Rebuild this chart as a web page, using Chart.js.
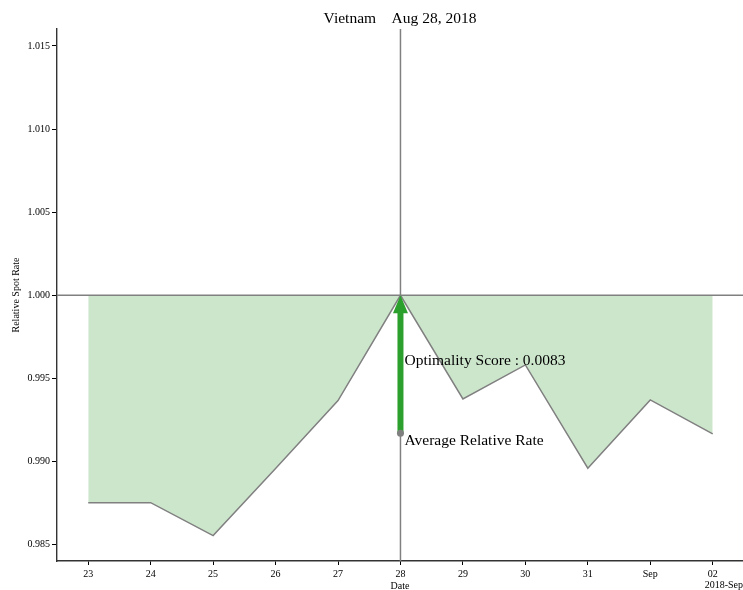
<!DOCTYPE html>
<html>
<head>
<meta charset="utf-8">
<script src="https://cdn.jsdelivr.net/npm/chart.js@4.4.1/dist/chart.umd.min.js"></script>
<style>
  html, body { margin: 0; padding: 0; background: #fff; }
  #wrap { width: 743px; height: 590px; position: relative; }
</style>
</head>
<body>
<div id="wrap"><canvas id="c"></canvas></div>
<script>
// Relative spot rate around the decision date (rate / rate on decision date)
const country = 'Vietnam';
const asOfLabel = 'Aug 28, 2018';
const dateLabels = ['23', '24', '25', '26', '27', '28', '29', '30', '31', 'Sep', '02'];
const relativeRate = [0.98752, 0.98752, 0.98554, 0.98958, 0.99366, 1.00000, 0.99376, 0.99581, 0.98959, 0.99370, 0.99166];
const yTickValues = [0.985, 0.990, 0.995, 1.000, 1.005, 1.010, 1.015];
const baselineRate = 1.0;
const decisionIndex = 5;
const optimalityScore = 0.0083;
const averageRate = baselineRate - optimalityScore;
const offsetLabel = '2018-Sep';

const SERIF = '"Liberation Serif", "Times New Roman", serif';
const GREEN = '#2ca02c';
const GRAY = '#808080';

const points = relativeRate.map((v, i) => ({ x: i, y: v }));

// Reference lines, arrow, annotations and titles
const overlay = {
  id: 'overlay',
  afterDatasetsDraw(chart) {
    const { ctx, chartArea: a, scales: { x, y } } = chart;
    const yBase = y.getPixelForValue(baselineRate);
    const xm = x.getPixelForValue(decisionIndex);
    const yAvg = y.getPixelForValue(averageRate);

    ctx.save();
    ctx.strokeStyle = GRAY;
    ctx.lineWidth = 1.5;
    ctx.beginPath();
    ctx.moveTo(a.left, yBase); ctx.lineTo(a.right, yBase);
    ctx.moveTo(xm, a.top); ctx.lineTo(xm, a.bottom);
    ctx.stroke();

    // arrow from the average rate up to the baseline
    const headLen = 18, headHalf = 7.5;
    ctx.strokeStyle = GREEN;
    ctx.lineWidth = 6;
    ctx.beginPath();
    ctx.moveTo(xm, yAvg);
    ctx.lineTo(xm, yBase + headLen - 1);
    ctx.stroke();
    ctx.fillStyle = GREEN;
    ctx.beginPath();
    ctx.moveTo(xm, yBase);
    ctx.lineTo(xm - headHalf, yBase + headLen);
    ctx.lineTo(xm + headHalf, yBase + headLen);
    ctx.closePath();
    ctx.fill();

    ctx.fillStyle = GRAY;
    ctx.beginPath();
    ctx.arc(xm, yAvg, 3.5, 0, Math.PI * 2);
    ctx.fill();

    ctx.fillStyle = '#000';
    ctx.font = '15.5px ' + SERIF;
    ctx.textAlign = 'left';
    ctx.textBaseline = 'alphabetic';
    ctx.fillText('Optimality Score : ' + optimalityScore.toFixed(4), xm + 4, (yBase + yAvg) / 2 + 1);
    ctx.fillText('Average Relative Rate', xm + 4, yAvg + 11.5);
    ctx.restore();
  },
  afterDraw(chart) {
    const { ctx, chartArea: a } = chart;
    const cx = (a.left + a.right) / 2;
    ctx.save();
    ctx.fillStyle = '#000';
    ctx.textBaseline = 'alphabetic';
    ctx.textAlign = 'center';
    ctx.font = '15.5px ' + SERIF;
    ctx.fillText(country + '    ' + asOfLabel, cx, 23);

    ctx.font = '10px ' + SERIF;
    ctx.fillText('Date', cx, 589);
    ctx.textAlign = 'right';
    ctx.fillText(offsetLabel, chart.width, 588);

    ctx.translate(16, (a.top + a.bottom) / 2);
    ctx.rotate(-Math.PI / 2);
    ctx.textAlign = 'center';
    ctx.textBaseline = 'middle';
    ctx.fillText('Relative Spot Rate', 0, 0);
    ctx.restore();
  }
};

new Chart(document.getElementById('c'), {
  type: 'line',
  data: {
    datasets: [{
      data: points,
      borderColor: GRAY,
      borderWidth: 1.5,
      backgroundColor: 'rgba(0,128,0,0.2)',
      fill: { value: baselineRate },
      pointRadius: 0,
      tension: 0
    }]
  },
  options: {
    responsive: true,
    maintainAspectRatio: false,
    animation: false,
    events: [],
    layout: { padding: { top: 29, bottom: 0, left: 0, right: 0 } },
    plugins: { legend: { display: false }, tooltip: { enabled: false }, title: { display: false } },
    scales: {
      x: {
        type: 'linear',
        min: -0.5,
        max: 10.485,
        afterBuildTicks: s => { s.ticks = dateLabels.map((_, i) => ({ value: i })); },
        afterFit: s => { s.height = 29; },
        grid: { drawOnChartArea: false, drawTicks: true, tickLength: 4, color: '#000', tickWidth: 1 },
        border: { display: true, color: '#333', width: 1.4 },
        ticks: {
          autoSkip: false,
          maxRotation: 0,
          padding: 3,
          color: '#000',
          font: { family: SERIF, size: 10 },
          callback: v => dateLabels[v]
        }
      },
      y: {
        min: 0.98401,
        max: 1.01602,
        afterBuildTicks: s => { s.ticks = yTickValues.map(v => ({ value: v })); },
        afterFit: s => { s.width = 57; },
        grid: { drawOnChartArea: false, drawTicks: true, tickLength: 5, color: '#000', tickWidth: 1 },
        border: { display: true, color: '#333', width: 1.4 },
        ticks: {
          padding: 2,
          color: '#000',
          font: { family: SERIF, size: 10 },
          callback: v => Number(v).toFixed(3)
        }
      }
    }
  },
  plugins: [overlay]
});
</script>
</body>
</html>
